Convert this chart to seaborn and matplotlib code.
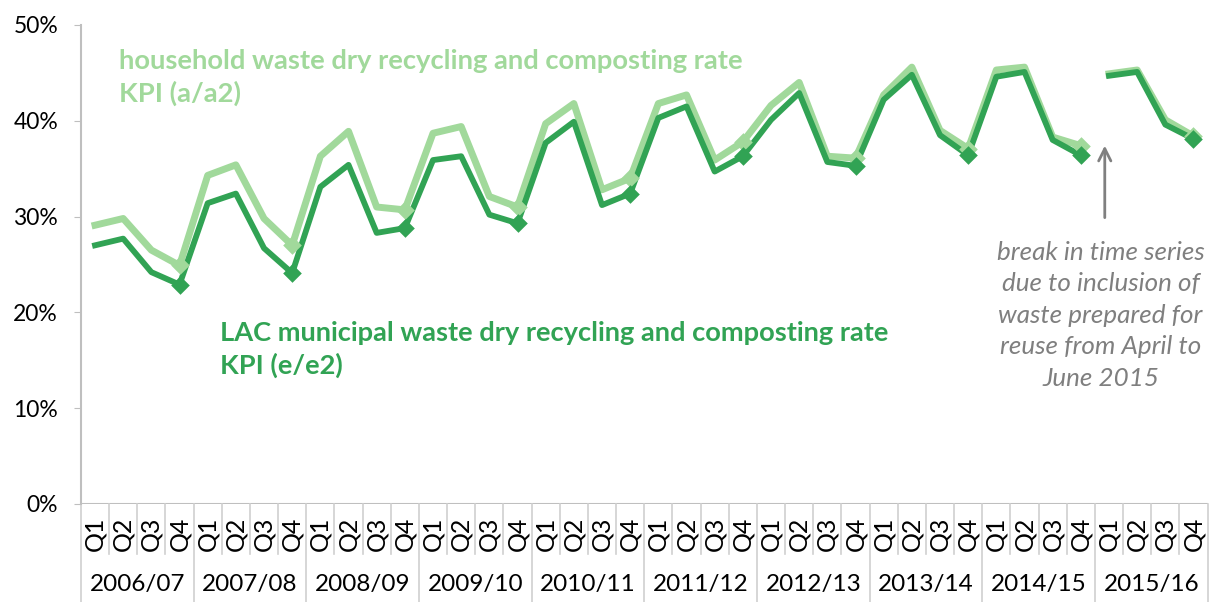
import numpy as np
import pandas as pd
import matplotlib
matplotlib.use("Agg")
import matplotlib.pyplot as plt
import matplotlib.transforms as mtransforms
import seaborn as sns

# datos (porcentaje, por trimestre)
years = ["2006/07", "2007/08", "2008/09", "2009/10", "2010/11",
         "2011/12", "2012/13", "2013/14", "2014/15", "2015/16"]
quarters = ["Q1", "Q2", "Q3", "Q4"]

household = [29.1, 29.8, 26.5, 24.9,
             34.3, 35.4, 29.8, 27.0,
             36.3, 38.9, 31.0, 30.7,
             38.7, 39.4, 32.1, 31.0,
             39.7, 41.8, 32.8, 34.0,
             41.8, 42.7, 35.9, 37.8,
             41.6, 44.0, 36.3, 36.1,
             42.7, 45.6, 39.0, 37.1,
             45.3, 45.6, 38.3, 37.4,
             44.9, 45.3, 40.1, 38.4]

lac = [27.0, 27.7, 24.2, 22.9,
       31.4, 32.4, 26.7, 24.1,
       33.1, 35.4, 28.3, 28.8,
       35.9, 36.3, 30.2, 29.3,
       37.7, 39.9, 31.2, 32.4,
       40.3, 41.5, 34.7, 36.3,
       40.1, 42.9, 35.7, 35.3,
       42.2, 44.8, 38.5, 36.4,
       44.6, 45.1, 38.0, 36.4,
       44.7, 45.1, 39.6, 38.1]

light_green = "#a1d99b"
dark_green = "#31a354"

n = len(household)
pos = np.arange(n)
seg = np.where(pos >= 36, "post", "pre")  # ruptura de la serie en 2015/16
qlab = [q for y in years for q in quarters]

df = pd.concat([
    pd.DataFrame({"pos": pos, "value": household, "series": "household", "segment": seg, "q": qlab}),
    pd.DataFrame({"pos": pos, "value": lac, "series": "lac", "segment": seg, "q": qlab}),
])

plt.rcParams["font.family"] = ["Lato", "DejaVu Sans"]
fig = plt.figure(figsize=(12.1, 6.02), dpi=100)
ax = fig.add_axes([0.0669, 0.1628, 0.9331 - 0.002, 0.7957])

for name, col, lw in [("household", light_green, 5), ("lac", dark_green, 4.2)]:
    sub = df[df["series"] == name]
    sns.lineplot(data=sub, x="pos", y="value", units="segment", estimator=None,
                 color=col, linewidth=lw, ax=ax, legend=False)
    q4 = sub[sub["q"] == "Q4"]
    sns.scatterplot(data=q4, x="pos", y="value", marker="D", s=90, color=col,
                    edgecolor=col, linewidth=0, ax=ax, legend=False, zorder=3)

ax.set_xlim(-0.5, n - 0.5)
ax.set_ylim(0, 50)
ax.set_yticks([0, 10, 20, 30, 40, 50])
ax.set_yticklabels([f"{v}%" for v in [0, 10, 20, 30, 40, 50]], fontsize=16.5)
ax.tick_params(axis="y", length=5, color="#bfbfbf", pad=11.5)
ax.set_xticks(pos)
ax.set_xticklabels(qlab, rotation=90, fontsize=18)
ax.tick_params(axis="x", length=0, pad=9)
ax.set_xlabel("")
ax.set_ylabel("")

for s in ["top", "right", "bottom"]:
    ax.spines[s].set_visible(False)
ax.spines["left"].set_color("#bfbfbf")
ax.spines["left"].set_linewidth(1.5)
ax.axhline(0, color="#bfbfbf", linewidth=1.5, zorder=0)

# separadores del eje categorico
trans = mtransforms.blended_transform_factory(ax.transData, ax.transAxes)
for i in range(n + 1):
    x = i - 0.5
    bottom = -0.205 if i % 4 == 0 else -0.105
    ax.plot([x, x], [0, bottom], color="#d0d0d0", linewidth=1.2, transform=trans, clip_on=False)
for k, y in enumerate(years):
    ax.text(4 * k + 1.5, -0.168, y, transform=trans, ha="center", va="center", fontsize=17.5)

ax.text(0.85, 44.5, "household waste dry recycling and composting rate\nKPI (a/a2)",
        color=light_green, fontsize=19.7, fontweight="bold", ha="left", va="center", linespacing=1.38)
ax.text(4.45, 16.1, "LAC municipal waste dry recycling and composting rate\nKPI (e/e2)",
        color=dark_green, fontsize=19.6, fontweight="bold", ha="left", va="center", linespacing=1.38)

ax.annotate("", xy=(35.85, 37.7), xytext=(35.85, 29.6),
            arrowprops=dict(arrowstyle="->", color="#808080", lw=2, mutation_scale=22))
ax.text(35.7, 19.7, "break in time series\ndue to inclusion of\nwaste prepared for\nreuse from April to\nJune 2015",
        color="#7f7f7f", fontsize=18.7, style="italic", ha="center", va="center", linespacing=1.45)

fig.savefig("out.png", dpi=100)
